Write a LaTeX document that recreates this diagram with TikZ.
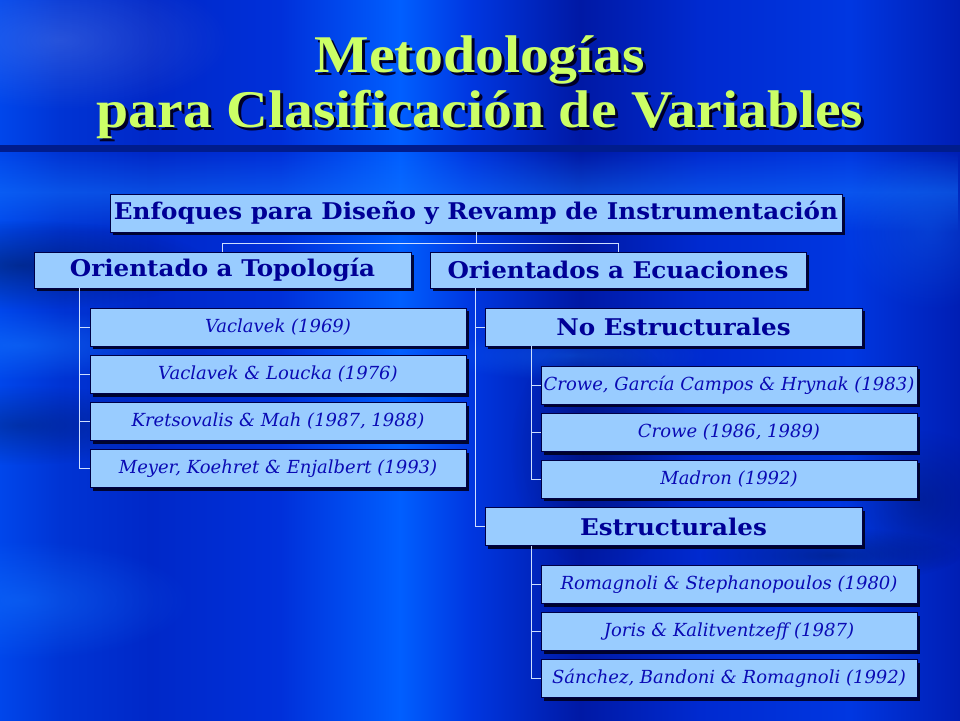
\documentclass[tikz,border=0pt]{standalone}
\usepackage{fontspec}
\setmainfont{DejaVu Serif}
\newfontfamily\hfont{DejaVu Serif}
\newfontfamily\sfont{DejaVu Serif}
\newfontfamily\tfont{Liberation Serif}
\usetikzlibrary{shadows,fadings}
\newcommand\hwide[1]{\scalebox{1.07}[1]{#1}}
\newcommand\twide[1]{\scalebox{1.09}[1]{#1}}
\definecolor{boxfill}{RGB}{153,204,255}
\definecolor{navy}{RGB}{0,0,150}
\definecolor{scriptc}{RGB}{10,10,180}
\definecolor{boxline}{RGB}{0,0,70}
\definecolor{shadowc}{RGB}{0,0,30}
\definecolor{connc}{RGB}{205,222,255}
\definecolor{titleg}{RGB}{204,255,102}
\definecolor{darkbar}{RGB}{0,28,140}
\definecolor{bA}{RGB}{0,70,235}
\definecolor{bB}{RGB}{0,52,212}
\definecolor{bC}{RGB}{0,40,200}
\definecolor{bD}{RGB}{0,48,218}
\definecolor{bE}{RGB}{0,95,255}
\definecolor{bF}{RGB}{0,55,225}
\definecolor{bG}{RGB}{0,25,165}
\definecolor{bH}{RGB}{0,42,208}
\definecolor{bI}{RGB}{0,55,225}
\definecolor{bJ}{RGB}{0,30,180}
\definecolor{bright}{RGB}{20,120,255}
\tikzfading[name=hband, top color=transparent!100, bottom color=transparent!100, middle color=transparent!0]
\tikzfading[name=blob, inner color=transparent!0, outer color=transparent!100]
\begin{document}
\begin{tikzpicture}[x=1pt,y=-1pt,
  box/.style={draw=boxline, line width=0.7pt, fill=boxfill, inner sep=0pt,
    minimum height=38pt, text=navy,
    drop shadow={shadow xshift=3pt, shadow yshift=-3pt, fill=shadowc, opacity=0.9}},
  head/.style={box, font=\hfont\bfseries\fontsize{23}{25}\selectfont},
  refbox/.style={box, minimum width=376pt, text=scriptc, font=\sfont\itshape\fontsize{18}{20}\selectfont},
  conn/.style={draw=connc, line width=0.9pt},
  ttl/.style={anchor=base, font=\tfont\bfseries\fontsize{53}{60}\selectfont}]
\useasboundingbox (0,0) rectangle (960,720);
% background banding
\shade[left color=bA, right color=bB] (0,0) rectangle (60,720);
\shade[left color=bB, right color=bC] (60,0) rectangle (150,720);
\shade[left color=bC, right color=bD] (150,0) rectangle (280,720);
\shade[left color=bD, right color=bE] (280,0) rectangle (400,720);
\shade[left color=bE, right color=bF] (400,0) rectangle (470,720);
\shade[left color=bF, right color=bG] (470,0) rectangle (580,720);
\shade[left color=bG, right color=bH] (580,0) rectangle (700,720);
\shade[left color=bH, right color=bI] (700,0) rectangle (850,720);
\shade[left color=bI, right color=bJ] (850,0) rectangle (960,720);
% light and dark patches
\fill[white, opacity=0.15, path fading=blob] (60,40) ellipse [x radius=170, y radius=70];
\fill[bright, opacity=0.45, path fading=hband] (0,152) rectangle (960,232);
\fill[black, opacity=0.35, path fading=blob] (20,265) ellipse [x radius=190, y radius=45];
\fill[bright, opacity=0.5, path fading=blob] (20,345) ellipse [x radius=170, y radius=35];
\fill[black, opacity=0.25, path fading=blob] (20,425) ellipse [x radius=160, y radius=40];
\fill[bright, opacity=0.45, path fading=blob] (20,600) ellipse [x radius=170, y radius=60];
\fill[bright, opacity=0.4, path fading=blob] (570,355) ellipse [x radius=140, y radius=25];
\fill[bright, opacity=0.3, path fading=blob] (930,230) ellipse [x radius=90, y radius=80];
\fill[black, opacity=0.3, path fading=blob] (830,555) ellipse [x radius=130, y radius=28];
\fill[black, opacity=0.2, path fading=blob] (920,500) ellipse [x radius=80, y radius=70];
\fill[black, opacity=0.2, path fading=blob] (600,450) ellipse [x radius=90, y radius=120];
% dark bar under title
\fill[darkbar] (0,145) rectangle (960,152);
% title (dark drop shadow, then the text)
\node[ttl, text=black!85!blue] at (483,75) {\twide{Metodologías}};
\node[ttl, text=titleg] (t1) at (480,72) {\twide{Metodologías}};
\node[ttl, text=black!85!blue] at (483,130) {\twide{para Clasificación de Variables}};
\node[ttl, text=titleg] (t2) at (480,127) {\twide{para Clasificación de Variables}};
% boxes
\node[head, minimum width=732pt] (top) at (476,213) {\hwide{Enfoques para Diseño y Revamp de Instrumentación}};
\node[head, minimum width=377pt, minimum height=36pt] (L1) at (222.5,270) {\hwide{Orientado a Topología}};
\node[head, minimum width=376pt, minimum height=36pt] (R1) at (618,270) {\hwide{Orientados a Ecuaciones}};
\node[refbox] (a1) at (278,327) {Vaclavek (1969)};
\node[refbox] (a2) at (278,374.5) {Vaclavek \& Loucka (1976)};
\node[refbox] (a3) at (278,421.5) {Kretsovalis \& Mah (1987, 1988)};
\node[refbox] (a4) at (278,468.5) {Meyer, Koehret \& Enjalbert (1993)};
\node[head, minimum width=377pt] (noe) at (673.5,327) {\hwide{No Estructurales}};
\node[head, minimum width=377pt] (est) at (673.5,526.5) {\hwide{Estructurales}};
\node[refbox] (b1) at (729,385) {Crowe, García Campos \& Hrynak (1983)};
\node[refbox] (b2) at (729,432.5) {Crowe (1986, 1989)};
\node[refbox] (b3) at (729,479) {Madron (1992)};
\node[refbox] (c1) at (729,584.5) {Romagnoli \& Stephanopoulos (1980)};
\node[refbox] (c2) at (729,631.5) {Joris \& Kalitventzeff (1987)};
\node[refbox] (c3) at (729,678.5) {Sánchez, Bandoni \& Romagnoli (1992)};
% connectors
\coordinate (bar) at (0,243);
\draw[conn] (L1.north) -- (L1.north |- bar) -- (R1.north |- bar) -- (R1.north);
\draw[conn] (top.south) -- (top.south |- bar);
\coordinate (lt) at ([xshift=46pt]L1.south west);
\draw[conn] (lt) |- (a4.west);
\foreach \n in {a1,a2,a3} \draw[conn] (lt |- \n.west) -- (\n.west);
\coordinate (rt) at ([xshift=46pt]R1.south west);
\draw[conn] (rt) |- (est.west);
\draw[conn] (rt |- noe.west) -- (noe.west);
\coordinate (nt) at ([xshift=47pt]noe.south west);
\draw[conn] (nt) |- (b3.west);
\foreach \n in {b1,b2} \draw[conn] (nt |- \n.west) -- (\n.west);
\coordinate (et) at ([xshift=47pt]est.south west);
\draw[conn] (et) |- (c3.west);
\foreach \n in {c1,c2} \draw[conn] (et |- \n.west) -- (\n.west);
\end{tikzpicture}
\end{document}
